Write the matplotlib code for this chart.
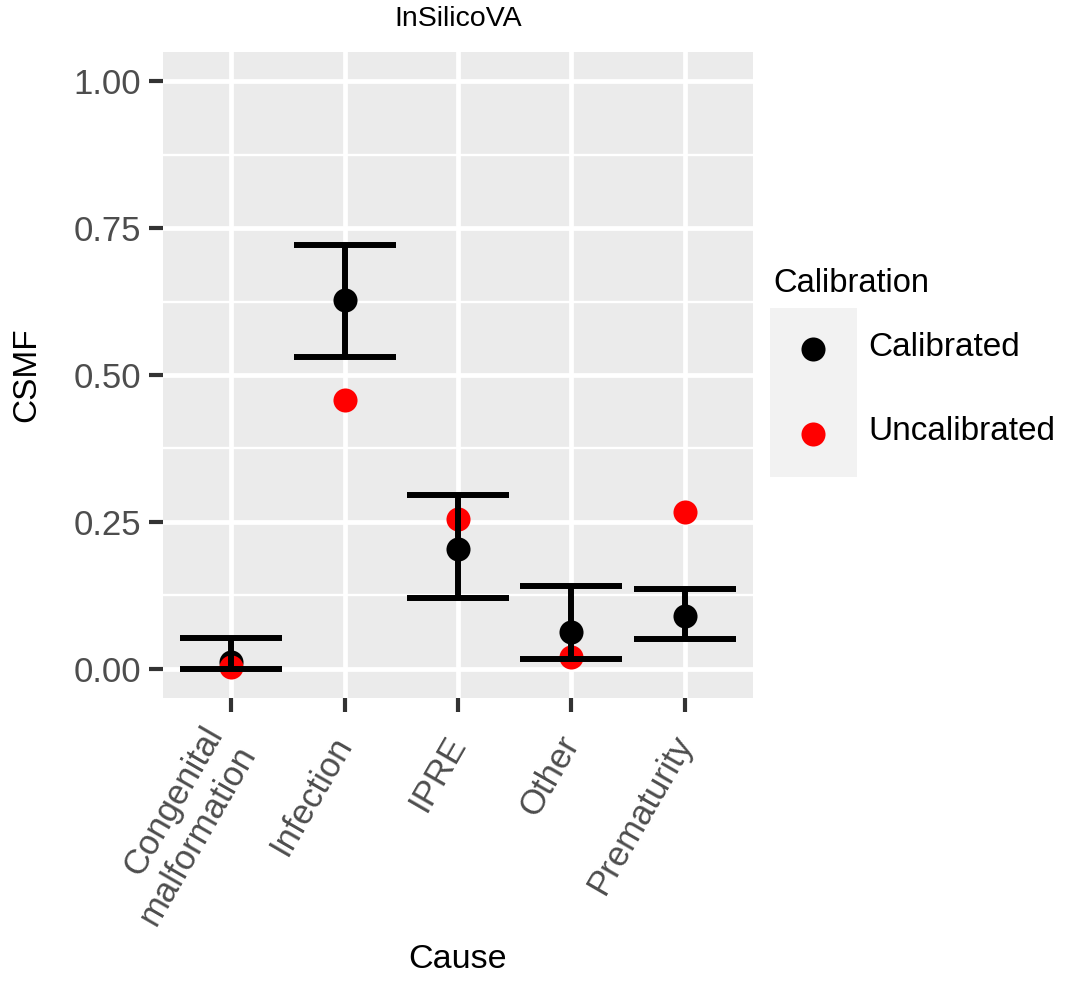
# CSMF por causa: calibrado (con IC) frente a no calibrado, estilo ggplot
import numpy as np
import matplotlib; matplotlib.use("Agg")
import matplotlib.pyplot as plt

plt.rcParams["font.family"] = ["Liberation Sans", "DejaVu Sans"]

causes = ["Congenital\nmalformation", "Infection", "IPRE", "Other", "Prematurity"]
cal_mid = [0.012, 0.628, 0.204, 0.063, 0.089]
cal_low = [0.000, 0.531, 0.121, 0.017, 0.050]
cal_high = [0.053, 0.722, 0.296, 0.141, 0.135]
uncal = [0.003, 0.458, 0.254, 0.019, 0.266]
yticks = [0.00, 0.25, 0.50, 0.75, 1.00]

W, H = 1066, 985
fig = plt.figure(figsize=(W / 100, H / 100), dpi=100)
ax = fig.add_axes([163 / W, 1 - 698 / H, 590 / W, 646 / H])
ax.set_facecolor("#EBEBEB")
for sp in ax.spines.values():
    sp.set_visible(False)

x = np.arange(1, len(causes) + 1)
ax.set_xlim(0.4, len(causes) + 0.6)
ax.set_ylim(-0.05, 1.05)

# rejilla
ax.set_axisbelow(True)
ax.set_xticks(x)
ax.set_yticks(yticks)
ax.set_yticks([0.125, 0.375, 0.625, 0.875], minor=True)
ax.grid(True, which="major", color="white", lw=3.4)
ax.grid(True, which="minor", axis="y", color="white", lw=1.7)
ax.tick_params(which="minor", length=0)

ax.scatter(x, cal_mid, s=300, color="black", zorder=3, linewidths=0)
ax.scatter(x, uncal, s=300, color="#FF0000", zorder=4, linewidths=0)
ax.errorbar(x, cal_mid,
            yerr=[np.array(cal_mid) - np.array(cal_low), np.array(cal_high) - np.array(cal_mid)],
            fmt="none", ecolor="black", elinewidth=4.3, capsize=37, capthick=4.3, zorder=5)

ax.tick_params(which="major", length=10, width=3, color="#333333", labelcolor="#4D4D4D",
               labelsize=25, pad=6)
ax.tick_params(axis="x", which="major", pad=19)
ax.set_yticklabels([f"{v:.2f}" for v in yticks])
ax.set_xticklabels(causes, rotation=60, ha="right", va="center", rotation_mode="anchor",
                   multialignment="right", fontsize=25)

ax.set_title("InSilicoVA", fontsize=20.5, pad=19)
ax.set_ylabel("CSMF", fontsize=24, labelpad=22)
fig.text(458 / W, 1 - 960 / H, "Cause", fontsize=24.5, ha="center", va="center")

# leyenda
fig.text(773 / W, 1 - 283 / H, "Calibration", fontsize=23.5, ha="left", va="center")
lax = fig.add_axes([770 / W, 1 - 477 / H, 87 / W, 169 / H])
lax.set_facecolor("#F2F2F2")
for sp in lax.spines.values():
    sp.set_visible(False)
lax.set_xticks([]); lax.set_yticks([])
lax.set_xlim(770, 857); lax.set_ylim(477, 308)
lax.scatter([813], [349], s=300, color="black", linewidths=0)
lax.scatter([813], [434], s=300, color="#FF0000", linewidths=0)
fig.text(868 / W, 1 - 347 / H, "Calibrated", fontsize=24, ha="left", va="center")
fig.text(868 / W, 1 - 431 / H, "Uncalibrated", fontsize=24, ha="left", va="center")

fig.savefig("out.png", dpi=100, facecolor="white")
